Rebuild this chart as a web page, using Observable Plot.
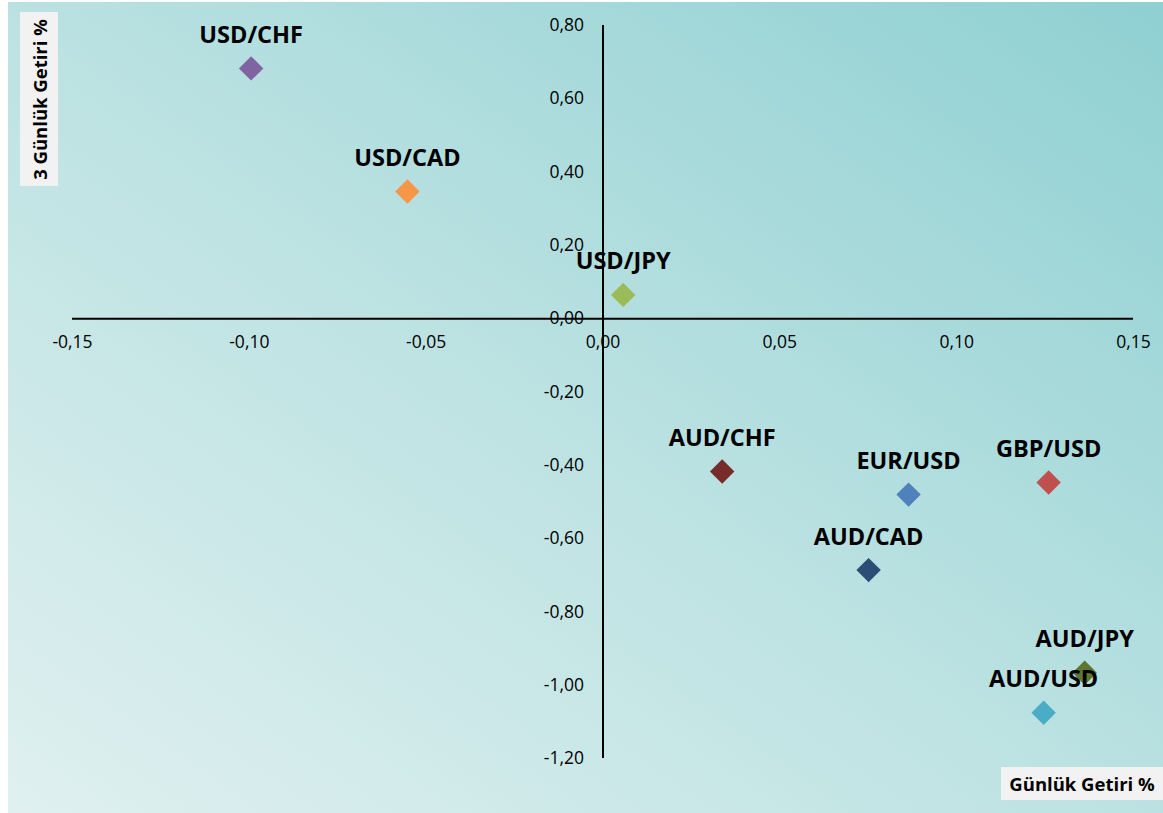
<!DOCTYPE html>
<html>
<head>
<meta charset="utf-8">
<script src="https://cdn.jsdelivr.net/npm/d3@7"></script>
<script src="https://cdn.jsdelivr.net/npm/@observablehq/plot@0.6"></script>
<style>
  html, body { margin: 0; padding: 0; background: #ffffff; }
  #wrap { position: relative; width: 1163px; height: 813px; }
  #wrap svg {
    background: linear-gradient(to top right, #e0f0f0 0%, #bfe3e3 45%, #8fd0d2 100%) no-repeat;
    background-position: 8px 2px;
    background-size: 1155px 811px;
  }
  .axtitle {
    position: absolute; background: #f2f2f2; color: #000;
    font-family: "Open Sans", sans-serif; font-weight: bold;
    display: flex; align-items: center; justify-content: center;
    white-space: nowrap;
  }
  #ytitle { left: 20px; top: 12px; width: 38px; height: 174px; font-size: 18.5px; }
  #ytitle span { transform: rotate(-90deg); display: inline-block; }
  #xtitle { left: 1001px; top: 767px; width: 162px; height: 33px; font-size: 18.5px; }
</style>
</head>
<body>
<div id="wrap"></div>
<script>
const pairs   = ["USD/CHF", "USD/CAD", "USD/JPY", "AUD/CHF", "EUR/USD", "GBP/USD", "AUD/CAD", "AUD/JPY", "AUD/USD"];
const daily   = [-0.0995, -0.0553, 0.0057, 0.0337, 0.0864, 0.1260, 0.0751, 0.1362, 0.1246];
const threeDay = [0.683, 0.347, 0.065, -0.417, -0.480, -0.447, -0.686, -0.966, -1.075];
const colors  = ["#8064A2", "#F79646", "#9BBB59", "#772C2A", "#4F81BD", "#C0504D", "#2C4D75", "#5F7530", "#4BACC6"];
const xTicks  = [-0.15, -0.10, -0.05, 0.00, 0.05, 0.10, 0.15];
const yTicks  = [0.80, 0.60, 0.40, 0.20, 0.00, -0.20, -0.40, -0.60, -0.80, -1.00, -1.20];
const xTitle  = "Günlük Getiri %";
const yTitle  = "3 Günlük Getiri %";

const data = pairs.map((p, i) => ({pair: p, x: daily[i], y: threeDay[i], color: colors[i]}));
const fmt = v => v.toFixed(2).replace(".", ",");
const font = "'Open Sans', sans-serif";

const chart = Plot.plot({
  width: 1163,
  height: 813,
  marginLeft: 72,
  marginRight: 30,
  marginTop: 25,
  marginBottom: 55,
  style: {fontFamily: font, color: "#000"},
  x: {domain: [-0.15, 0.15], axis: null},
  y: {domain: [-1.2, 0.8], axis: null},
  marks: [
    Plot.ruleY([0], {x1: -0.15, x2: 0.15, stroke: "#000", strokeWidth: 2}),
    Plot.ruleX([0], {y1: -1.2, y2: 0.8, stroke: "#000", strokeWidth: 2}),
    Plot.text(xTicks, {x: d => d, y: 0, text: d => fmt(d), dy: 24, fontSize: 17.5, fill: "#000"}),
    Plot.text(yTicks, {x: 0, y: d => d, text: d => fmt(d), dx: -19, textAnchor: "end", fontSize: 17.5, fill: "#000"}),
    Plot.dot(data, {x: "x", y: "y", symbol: "diamond2", r: 11, fill: d => d.color, stroke: "none"}),
    Plot.text(data, {x: "x", y: "y", text: "pair", dy: -33, fontSize: 23.5, fontWeight: "bold", fill: "#000"})
  ]
});

const wrap = document.getElementById("wrap");
wrap.appendChild(chart);
const yt = document.createElement("div");
yt.id = "ytitle"; yt.className = "axtitle";
yt.innerHTML = "<span></span>"; yt.firstChild.textContent = yTitle;
wrap.appendChild(yt);
const xt = document.createElement("div");
xt.id = "xtitle"; xt.className = "axtitle";
xt.textContent = xTitle;
wrap.appendChild(xt);
</script>
</body>
</html>
